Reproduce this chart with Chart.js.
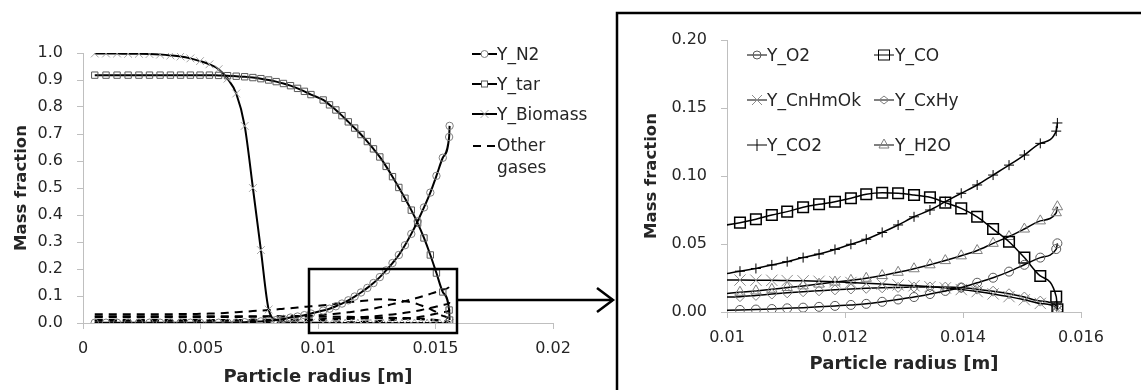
<!DOCTYPE html>
<html>
<head>
<meta charset="utf-8">
<script src="https://cdn.jsdelivr.net/npm/chart.js"></script>
<style>
  html, body { margin: 0; padding: 0; background: #fff; }
  #wrap { position: relative; width: 1141px; height: 390px; overflow: hidden; font-family: "DejaVu Sans"; color: #262626; }
  canvas { position: absolute; top: 0; }
  #leftChart { left: 0; }
  #rightChart { left: 560px; }
  .item { position: absolute; display: flex; align-items: center; font-size: 17px; white-space: nowrap; }
  .item svg { flex: none; }
  .wrapText { white-space: normal; width: 62px; line-height: 22px; }
  svg.deco { position: absolute; left: 0; top: 0; pointer-events: none; }
</style>
</head>
<body>
<div id="wrap">
  <canvas id="leftChart" width="600" height="390"></canvas>
  <canvas id="rightChart" width="581" height="390"></canvas>

  <!-- left legend -->
  <div class="item" style="left:472px; top:44px;">
    <svg width="25" height="20"><line x1="0" y1="10" x2="25" y2="10" stroke="#000" stroke-width="2"/><circle cx="12.5" cy="10" r="3.5" fill="#fff" stroke="#7f7f7f"/></svg><span>Y_N2</span>
  </div>
  <div class="item" style="left:472px; top:74px;">
    <svg width="25" height="20"><line x1="0" y1="10" x2="25" y2="10" stroke="#000" stroke-width="2"/><rect x="9.5" y="7" width="6" height="6" fill="#fff" stroke="#595959"/></svg><span>Y_tar</span>
  </div>
  <div class="item" style="left:472px; top:104px;">
    <svg width="25" height="20"><line x1="0" y1="10" x2="25" y2="10" stroke="#000" stroke-width="2"/><path d="M8.5 6 L16.5 14 M16.5 6 L8.5 14" stroke="#a6a6a6"/></svg><span>Y_Biomass</span>
  </div>
  <div class="item" style="left:472px; top:134px; align-items:flex-start;">
    <svg width="25" height="20"><line x1="1" y1="12" x2="25" y2="12" stroke="#000" stroke-width="2" stroke-dasharray="8,6"/></svg><span class="wrapText">Other gases</span>
  </div>

  <!-- right legend -->
  <div class="item" style="left:747px; top:45px;">
    <svg width="20" height="20"><line x1="0" y1="10" x2="20" y2="10" stroke="#000"/><circle cx="10" cy="10" r="4" fill="none" stroke="#595959"/></svg><span>Y_O2</span>
  </div>
  <div class="item" style="left:874px; top:45px;">
    <svg width="21" height="20"><line x1="0" y1="10" x2="20" y2="10" stroke="#000"/><rect x="4.5" y="5" width="11" height="10" fill="none" stroke="#000"/></svg><span>Y_CO</span>
  </div>
  <div class="item" style="left:747px; top:90px;">
    <svg width="20" height="20"><line x1="0" y1="10" x2="20" y2="10" stroke="#000"/><path d="M5 5 L15 15 M15 5 L5 15" stroke="#8c8c8c"/></svg><span>Y_CnHmOk</span>
  </div>
  <div class="item" style="left:874px; top:90px;">
    <svg width="21" height="20"><line x1="0" y1="10" x2="20" y2="10" stroke="#000"/><path d="M10 6 L15 10 L10 14 L5 10 Z" fill="none" stroke="#7f7f7f"/></svg><span>Y_CxHy</span>
  </div>
  <div class="item" style="left:747px; top:135px;">
    <svg width="20" height="20"><line x1="0" y1="10" x2="20" y2="10" stroke="#000"/><line x1="10" y1="4" x2="10" y2="16" stroke="#000"/></svg><span>Y_CO2</span>
  </div>
  <div class="item" style="left:874px; top:135px;">
    <svg width="21" height="20"><line x1="0" y1="10" x2="20" y2="10" stroke="#000"/><path d="M10 4 L15 13 L5 13 Z" fill="none" stroke="#7f7f7f"/></svg><span>Y_H2O</span>
  </div>

  <!-- zoom box, arrow and frame of the inset -->
  <svg class="deco" width="1141" height="390">
    <rect x="309" y="269" width="148" height="64" fill="none" stroke="#000" stroke-width="2.5"/>
    <line x1="457" y1="300" x2="613" y2="300" stroke="#000" stroke-width="2.5"/>
    <polyline points="597,288 613,300 597,312" fill="none" stroke="#000" stroke-width="2.5"/>
    <rect x="617" y="13" width="600" height="500" fill="none" stroke="#000" stroke-width="2.5"/>
  </svg>
</div>

<script>
// radial positions of the grid points [m]
const radius = [
  0.0005, 0.00098, 0.00145, 0.00192, 0.00238, 0.00283, 0.00328, 0.00372, 0.00415, 0.00457,
  0.00498, 0.00538, 0.00577, 0.00615, 0.00652, 0.00688, 0.00723, 0.00757, 0.0079, 0.00822,
  0.00853, 0.00883, 0.00913, 0.00942, 0.0097,
  0.01022, 0.01049, 0.01076, 0.01102, 0.01129, 0.01156, 0.01183, 0.0121, 0.01236, 0.01263,
  0.0129, 0.01317, 0.01344, 0.0137, 0.01397, 0.01424, 0.01451, 0.01478, 0.01504, 0.01531,
  0.01558, 0.0156
];

// mass fractions
const yN2 = [
  0.001, 0.001, 0.001, 0.001, 0.001, 0.001, 0.001, 0.001, 0.001, 0.001,
  0.001, 0.001, 0.001, 0.001, 0.002, 0.003, 0.004, 0.006, 0.008, 0.011,
  0.015, 0.02, 0.024, 0.029, 0.035,
  0.046, 0.053, 0.062, 0.072, 0.084, 0.098, 0.113, 0.13, 0.148, 0.17,
  0.195, 0.222, 0.252, 0.288, 0.33, 0.377, 0.428, 0.483, 0.545, 0.612,
  0.689, 0.73
];
const yTar = [
  0.918, 0.918, 0.918, 0.918, 0.918, 0.918, 0.918, 0.918, 0.918, 0.918,
  0.918, 0.918, 0.917, 0.916, 0.914, 0.912, 0.909, 0.905, 0.9, 0.894,
  0.887, 0.879, 0.869, 0.858, 0.846,
  0.826, 0.808, 0.789, 0.768, 0.745, 0.722, 0.698, 0.672, 0.645, 0.615,
  0.58, 0.542, 0.502, 0.462, 0.418, 0.37, 0.315, 0.252, 0.185, 0.115,
  0.048, 0.011
];
const yBiomass = [
  0.998, 0.998, 0.998, 0.997, 0.997, 0.996, 0.994, 0.991, 0.987, 0.98,
  0.97, 0.958, 0.94, 0.905, 0.85, 0.73, 0.5, 0.27, 0.05, 0.012,
  0.004, 0.002, 0.001, 0.001, 0.001,
  0, 0, 0, 0, 0, 0, 0, 0, 0, 0,
  0, 0, 0, 0, 0, 0, 0, 0, 0, 0,
  0, 0
];
const yO2 = [
  0.0005, 0.0005, 0.0005, 0.0005, 0.0005, 0.0005, 0.0005, 0.0005, 0.0005, 0.0005,
  0.0005, 0.0005, 0.0005, 0.0005, 0.0005, 0.0005, 0.0005, 0.0005, 0.0006, 0.0007,
  0.0008, 0.0009, 0.001, 0.0011, 0.0012,
  0.0015, 0.0018, 0.0022, 0.0027, 0.0032, 0.0038, 0.0045, 0.0052, 0.006, 0.0075,
  0.0092, 0.011, 0.0132, 0.0155, 0.018, 0.0215, 0.0252, 0.0297, 0.0347, 0.04,
  0.0463, 0.0505
];
const yCO = [
  0.032, 0.032, 0.032, 0.032, 0.032, 0.032, 0.032, 0.032, 0.033, 0.033,
  0.034, 0.035, 0.036, 0.038, 0.04, 0.042, 0.044, 0.046, 0.048, 0.05,
  0.053, 0.055, 0.057, 0.06, 0.062,
  0.0657, 0.0682, 0.0713, 0.0738, 0.077, 0.0792, 0.0811, 0.0836, 0.0866, 0.0877,
  0.0873, 0.086, 0.0843, 0.0804, 0.0762, 0.07, 0.061, 0.0517, 0.04, 0.0265,
  0.0113, 0.002
];
const yCnHmOk = [
  0.025, 0.025, 0.025, 0.025, 0.025, 0.025, 0.025, 0.025, 0.025, 0.025,
  0.025, 0.025, 0.025, 0.025, 0.025, 0.025, 0.025, 0.025, 0.0248, 0.0246,
  0.0244, 0.0242, 0.024, 0.0238, 0.0237,
  0.0235, 0.0234, 0.0233, 0.0231, 0.0229, 0.0226, 0.0222, 0.0217, 0.0211, 0.0205,
  0.0199, 0.0193, 0.0186, 0.0177, 0.0165, 0.015, 0.0133, 0.0113, 0.009, 0.0063,
  0.0032, 0.001
];
const yCxHy = [
  0.008, 0.008, 0.008, 0.008, 0.008, 0.008, 0.008, 0.008, 0.008, 0.008,
  0.0082, 0.0083, 0.0085, 0.0087, 0.0089, 0.0091, 0.0093, 0.0095, 0.0097, 0.0099,
  0.0101, 0.0103, 0.0105, 0.0107, 0.0109,
  0.0113, 0.0122, 0.0132, 0.0141, 0.0149, 0.0156, 0.0163, 0.0169, 0.0174, 0.0178,
  0.0181, 0.0183, 0.0184, 0.0183, 0.0178, 0.0168, 0.0153, 0.0134, 0.011, 0.008,
  0.0045, 0.001
];
const yCO2 = [
  0.021, 0.021, 0.021, 0.021, 0.021, 0.021, 0.021, 0.021, 0.021, 0.021,
  0.021, 0.022, 0.022, 0.022, 0.022, 0.023, 0.023, 0.023, 0.024, 0.024,
  0.025, 0.025, 0.026, 0.027, 0.027,
  0.03, 0.032, 0.0346, 0.037, 0.04, 0.0426, 0.046, 0.0498, 0.0535, 0.0585,
  0.064, 0.07, 0.075, 0.0811, 0.0873, 0.0934, 0.1007, 0.108, 0.1154, 0.124,
  0.133, 0.139
];
const yH2O = [
  0.011, 0.011, 0.011, 0.011, 0.011, 0.011, 0.011, 0.011, 0.011, 0.011,
  0.011, 0.011, 0.011, 0.011, 0.011, 0.011, 0.012, 0.012, 0.012, 0.012,
  0.012, 0.012, 0.013, 0.013, 0.013,
  0.0145, 0.0155, 0.0167, 0.018, 0.0192, 0.0205, 0.022, 0.0233, 0.0248, 0.0268,
  0.0292, 0.0318, 0.0347, 0.0378, 0.0413, 0.0452, 0.0505, 0.0555, 0.061, 0.067,
  0.073, 0.0774
];

// axis ticks
const leftXTicks = [0, 0.005, 0.01, 0.015, 0.02];
const leftXTickLabels = ['0', '0.005', '0.01', '0.015', '0.02'];
const leftYTicks = [0, 0.1, 0.2, 0.3, 0.4, 0.5, 0.6, 0.7, 0.8, 0.9, 1.0];
const leftYTickLabels = ['0.0', '0.1', '0.2', '0.3', '0.4', '0.5', '0.6', '0.7', '0.8', '0.9', '1.0'];
const rightXTicks = [0.01, 0.012, 0.014, 0.016];
const rightXTickLabels = ['0.01', '0.012', '0.014', '0.016'];
const rightYTicks = [0, 0.05, 0.1, 0.15, 0.2];
const rightYTickLabels = ['0.00', '0.05', '0.10', '0.15', '0.20'];

const pts = (ys) => radius.map((r, i) => ({ x: r, y: ys[i] }));

Chart.defaults.font.family = 'DejaVu Sans';
Chart.defaults.color = '#262626';

const tickFont = { family: 'DejaVu Sans', size: 16 };
const titleFont = { family: 'DejaVu Sans', size: 18, weight: 'bold' };
// the vertical titles are a bit smaller in the picture
const yTitleFont = { family: 'DejaVu Sans', size: 16.5, weight: 'bold' };
const axisGray = '#bfbfbf';

function axis(values, labels, extra) {
  return Object.assign({
    type: 'linear',
    afterBuildTicks: (s) => { s.ticks = values.map(v => ({ value: v })); },
    ticks: { font: tickFont, color: '#262626', callback: (v, i) => labels[i], autoSkip: false, maxRotation: 0 },
    grid: { drawOnChartArea: false, drawTicks: true, tickLength: 6, color: axisGray },
    border: { color: axisGray, width: 1 }
  }, extra);
}

const solid = (label, ys, style, color, r) => ({
  label: label,
  data: pts(ys),
  borderColor: '#000',
  borderWidth: 2,
  pointStyle: style,
  pointRadius: r,
  pointHoverRadius: r,
  pointBorderColor: color,
  pointBorderWidth: 1,
  pointBackgroundColor: 'rgba(0,0,0,0)',
  cubicInterpolationMode: 'monotone',
  fill: false
});

const dashed = (label, ys) => ({
  label: label,
  data: pts(ys),
  borderColor: '#000',
  borderWidth: 2,
  borderDash: [8, 6],
  pointRadius: 0,
  cubicInterpolationMode: 'monotone',
  fill: false
});

// Left chart: whole particle
const leftX = axis(leftXTicks, leftXTickLabels, {
  min: 0, max: 0.02,
  title: { display: true, text: 'Particle radius [m]', font: titleFont, color: '#262626', padding: { top: 0, bottom: 2 } },
  afterFit: (s) => { s.height = 67; }
});
leftX.ticks.padding = 10;
const leftY = axis(leftYTicks, leftYTickLabels, {
  min: 0, max: 1,
  title: { display: true, text: 'Mass fraction', font: yTitleFont, color: '#262626', padding: { top: 12, bottom: 0 } },
  afterFit: (s) => { s.width = 83; }
});
leftY.ticks.padding = 14;

new Chart(document.getElementById('leftChart'), {
  type: 'line',
  data: {
    datasets: [
      solid('Y_N2', yN2, 'circle', '#7f7f7f', 3.7),
      solid('Y_tar', yTar, 'rect', '#595959', 4.5),
      solid('Y_Biomass', yBiomass, 'crossRot', '#a6a6a6', 5.5),
      dashed('Other gases', yCO),
      dashed('Y_CnHmOk', yCnHmOk),
      dashed('Y_CO2', yCO2),
      dashed('Y_H2O', yH2O),
      dashed('Y_CxHy', yCxHy),
      dashed('Y_O2', yO2)
    ]
  },
  options: {
    responsive: false,
    animation: false,
    layout: { padding: { left: 0, top: 53, right: 47, bottom: 0 } },
    plugins: { legend: { display: false }, tooltip: { enabled: false } },
    scales: { x: leftX, y: leftY }
  }
});

// Right chart: outer shell, zoomed
const thin = (label, ys, style, color, r) => Object.assign(solid(label, ys, style, color, r), { borderWidth: 1.5 });

const rightX = axis(rightXTicks, rightXTickLabels, {
  min: 0.01, max: 0.016,
  title: { display: true, text: 'Particle radius [m]', font: titleFont, color: '#262626', padding: { top: 0, bottom: 15 } },
  afterFit: (s) => { s.height = 78; }
});
rightX.ticks.padding = 10;
const rightY = axis(rightYTicks, rightYTickLabels, {
  min: 0, max: 0.2,
  title: { display: true, text: 'Mass fraction', font: yTitleFont, color: '#262626', padding: { top: 2, bottom: 0 } },
  afterFit: (s) => { s.width = 87; }
});
rightY.ticks.padding = 14;

new Chart(document.getElementById('rightChart'), {
  type: 'line',
  data: {
    datasets: [
      thin('Y_O2', yO2, 'circle', '#595959', 4.5),
      Object.assign(thin('Y_CO', yCO, 'rect', '#000', 7.5), { pointBorderWidth: 1.5 }),
      thin('Y_CnHmOk', yCnHmOk, 'crossRot', '#8c8c8c', 8),
      thin('Y_CxHy', yCxHy, 'rectRot', '#7f7f7f', 5),
      thin('Y_CO2', yCO2, 'cross', '#000', 5),
      thin('Y_H2O', yH2O, 'triangle', '#7f7f7f', 6)
    ]
  },
  options: {
    responsive: false,
    animation: false,
    layout: { padding: { left: 80, top: 40, right: 60, bottom: 0 } },
    plugins: { legend: { display: false }, tooltip: { enabled: false } },
    scales: { x: rightX, y: rightY }
  }
});
</script>
</body>
</html>
